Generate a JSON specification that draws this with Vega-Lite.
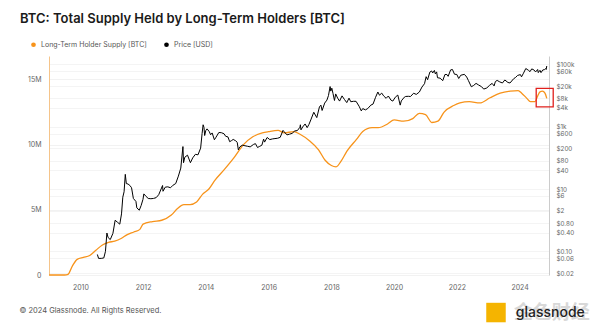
{
  "$schema": "https://vega.github.io/schema/vega-lite/v6.json",
  "width": 500,
  "height": 219,
  "autosize": {"type": "none"},
  "padding": {"left": 49, "top": 56, "right": 51, "bottom": 57},
  "background": "#ffffff",
  "config": {
    "view": {"stroke": null},
    "font": "Inter",
    "axis": {"labelFont": "Inter", "labelFontSize": 7, "labelColor": "#666666", "labelOverlap": false},
    "legend": {"labelFont": "Inter"}
  },
  "title": {
    "text": "BTC: Total Supply Held by Long-Term Holders [BTC]",
    "anchor": "start",
    "frame": "group",
    "dx": -29,
    "offset": 15,
    "fontSize": 13,
    "font": "Inter",
    "fontWeight": 600,
    "color": "#1a1a1a"
  },
  "datasets": {
    "lth": [
      {"date": "2009-01-03", "lth": 0},
      {"date": "2009-07-01", "lth": 0},
      {"date": "2009-08-10", "lth": 50000},
      {"date": "2009-10-01", "lth": 700000},
      {"date": "2009-11-25", "lth": 1200000},
      {"date": "2010-02-05", "lth": 1350000},
      {"date": "2010-04-20", "lth": 1500000},
      {"date": "2010-07-01", "lth": 1900000},
      {"date": "2010-09-15", "lth": 2300000},
      {"date": "2010-11-25", "lth": 2500000},
      {"date": "2011-02-05", "lth": 2600000},
      {"date": "2011-04-20", "lth": 2800000},
      {"date": "2011-07-01", "lth": 3100000},
      {"date": "2011-09-15", "lth": 3300000},
      {"date": "2011-11-25", "lth": 3500000},
      {"date": "2012-01-01", "lth": 3900000},
      {"date": "2012-04-20", "lth": 4100000},
      {"date": "2012-08-05", "lth": 4200000},
      {"date": "2012-11-25", "lth": 4600000},
      {"date": "2013-02-05", "lth": 5100000},
      {"date": "2013-04-20", "lth": 5400000},
      {"date": "2013-07-01", "lth": 5400000},
      {"date": "2013-09-15", "lth": 5600000},
      {"date": "2013-11-25", "lth": 6200000},
      {"date": "2014-02-05", "lth": 6600000},
      {"date": "2014-04-20", "lth": 7300000},
      {"date": "2014-08-05", "lth": 8100000},
      {"date": "2014-11-25", "lth": 9000000},
      {"date": "2015-03-15", "lth": 10000000},
      {"date": "2015-07-01", "lth": 10600000},
      {"date": "2015-10-20", "lth": 10900000},
      {"date": "2016-01-01", "lth": 11000000},
      {"date": "2016-04-20", "lth": 11100000},
      {"date": "2016-07-01", "lth": 10900000},
      {"date": "2016-10-20", "lth": 11000000},
      {"date": "2017-01-01", "lth": 10800000},
      {"date": "2017-04-20", "lth": 10300000},
      {"date": "2017-08-05", "lth": 9600000},
      {"date": "2017-10-20", "lth": 8800000},
      {"date": "2018-01-01", "lth": 8400000},
      {"date": "2018-02-25", "lth": 8300000},
      {"date": "2018-04-20", "lth": 8700000},
      {"date": "2018-07-01", "lth": 9500000},
      {"date": "2018-10-20", "lth": 10400000},
      {"date": "2019-01-01", "lth": 11000000},
      {"date": "2019-04-20", "lth": 11300000},
      {"date": "2019-07-01", "lth": 11300000},
      {"date": "2019-10-20", "lth": 11600000},
      {"date": "2020-01-01", "lth": 11900000},
      {"date": "2020-04-20", "lth": 11800000},
      {"date": "2020-08-05", "lth": 12000000},
      {"date": "2020-10-20", "lth": 12400000},
      {"date": "2021-01-01", "lth": 12300000},
      {"date": "2021-03-15", "lth": 11700000},
      {"date": "2021-05-25", "lth": 11800000},
      {"date": "2021-08-05", "lth": 12500000},
      {"date": "2021-11-25", "lth": 13000000},
      {"date": "2022-02-05", "lth": 13200000},
      {"date": "2022-05-25", "lth": 13300000},
      {"date": "2022-09-25", "lth": 13200000},
      {"date": "2023-01-22", "lth": 13600000},
      {"date": "2023-05-20", "lth": 13950000},
      {"date": "2023-09-12", "lth": 14100000},
      {"date": "2023-12-15", "lth": 14150000},
      {"date": "2024-01-25", "lth": 13950000},
      {"date": "2024-03-25", "lth": 13550000},
      {"date": "2024-05-05", "lth": 13300000},
      {"date": "2024-06-28", "lth": 13300000},
      {"date": "2024-07-27", "lth": 13700000},
      {"date": "2024-08-25", "lth": 14050000},
      {"date": "2024-09-23", "lth": 14100000},
      {"date": "2024-10-22", "lth": 13950000},
      {"date": "2024-11-12", "lth": 13550000}
    ],
    "price": [
      {"date": "2010-07-18", "price": 0.08},
      {"date": "2010-08-01", "price": 0.06},
      {"date": "2010-09-01", "price": 0.06},
      {"date": "2010-10-01", "price": 0.062},
      {"date": "2010-10-20", "price": 0.1},
      {"date": "2010-11-06", "price": 0.39},
      {"date": "2010-11-20", "price": 0.28},
      {"date": "2010-12-15", "price": 0.24},
      {"date": "2011-01-15", "price": 0.38},
      {"date": "2011-02-10", "price": 1.0},
      {"date": "2011-03-10", "price": 0.86},
      {"date": "2011-04-05", "price": 0.75},
      {"date": "2011-04-25", "price": 1.6},
      {"date": "2011-05-10", "price": 5.5},
      {"date": "2011-05-25", "price": 8.2},
      {"date": "2011-06-08", "price": 29.6},
      {"date": "2011-06-20", "price": 15},
      {"date": "2011-07-10", "price": 14.5},
      {"date": "2011-08-01", "price": 13},
      {"date": "2011-08-20", "price": 11},
      {"date": "2011-09-10", "price": 5},
      {"date": "2011-10-10", "price": 4},
      {"date": "2011-10-20", "price": 2.5},
      {"date": "2011-11-18", "price": 2.1},
      {"date": "2011-12-10", "price": 3},
      {"date": "2011-12-31", "price": 4.7},
      {"date": "2012-01-10", "price": 7},
      {"date": "2012-02-05", "price": 5.8},
      {"date": "2012-03-01", "price": 5},
      {"date": "2012-04-01", "price": 4.9},
      {"date": "2012-05-01", "price": 5},
      {"date": "2012-06-01", "price": 5.3},
      {"date": "2012-07-01", "price": 6.6},
      {"date": "2012-08-15", "price": 13},
      {"date": "2012-08-20", "price": 8.5},
      {"date": "2012-09-15", "price": 11.5},
      {"date": "2012-10-15", "price": 11.8},
      {"date": "2012-11-15", "price": 11},
      {"date": "2012-12-15", "price": 13.3},
      {"date": "2013-01-15", "price": 15},
      {"date": "2013-02-15", "price": 26},
      {"date": "2013-03-15", "price": 47},
      {"date": "2013-04-09", "price": 230},
      {"date": "2013-04-16", "price": 70},
      {"date": "2013-05-01", "price": 105},
      {"date": "2013-06-01", "price": 122},
      {"date": "2013-07-05", "price": 70},
      {"date": "2013-08-01", "price": 100},
      {"date": "2013-09-01", "price": 130},
      {"date": "2013-10-01", "price": 125},
      {"date": "2013-11-01", "price": 205},
      {"date": "2013-11-18", "price": 600},
      {"date": "2013-11-30", "price": 1150},
      {"date": "2013-12-10", "price": 950},
      {"date": "2013-12-18", "price": 520},
      {"date": "2013-12-31", "price": 750},
      {"date": "2014-01-15", "price": 850},
      {"date": "2014-02-10", "price": 690},
      {"date": "2014-02-25", "price": 550},
      {"date": "2014-03-15", "price": 630},
      {"date": "2014-04-10", "price": 380},
      {"date": "2014-04-25", "price": 440},
      {"date": "2014-06-01", "price": 650},
      {"date": "2014-07-01", "price": 640},
      {"date": "2014-08-01", "price": 590},
      {"date": "2014-08-20", "price": 490},
      {"date": "2014-09-15", "price": 470},
      {"date": "2014-10-05", "price": 330},
      {"date": "2014-10-25", "price": 355},
      {"date": "2014-11-15", "price": 390},
      {"date": "2014-12-15", "price": 350},
      {"date": "2015-01-01", "price": 315},
      {"date": "2015-01-14", "price": 180},
      {"date": "2015-02-01", "price": 225},
      {"date": "2015-03-01", "price": 255},
      {"date": "2015-04-01", "price": 245},
      {"date": "2015-05-01", "price": 235},
      {"date": "2015-06-01", "price": 225},
      {"date": "2015-07-10", "price": 270},
      {"date": "2015-08-01", "price": 285},
      {"date": "2015-08-25", "price": 215},
      {"date": "2015-09-15", "price": 230},
      {"date": "2015-10-15", "price": 255},
      {"date": "2015-11-04", "price": 400},
      {"date": "2015-11-15", "price": 320},
      {"date": "2015-12-15", "price": 450},
      {"date": "2016-01-15", "price": 385},
      {"date": "2016-02-15", "price": 405},
      {"date": "2016-03-15", "price": 415},
      {"date": "2016-04-15", "price": 425},
      {"date": "2016-05-15", "price": 455},
      {"date": "2016-06-17", "price": 760},
      {"date": "2016-07-01", "price": 680},
      {"date": "2016-08-02", "price": 545},
      {"date": "2016-09-01", "price": 575},
      {"date": "2016-10-01", "price": 610},
      {"date": "2016-11-01", "price": 730},
      {"date": "2016-12-01", "price": 750},
      {"date": "2016-12-31", "price": 960},
      {"date": "2017-01-05", "price": 1150},
      {"date": "2017-01-12", "price": 790},
      {"date": "2017-02-01", "price": 980},
      {"date": "2017-03-01", "price": 1220},
      {"date": "2017-03-25", "price": 930},
      {"date": "2017-04-15", "price": 1180},
      {"date": "2017-05-10", "price": 1750},
      {"date": "2017-06-10", "price": 2900},
      {"date": "2017-07-15", "price": 1950},
      {"date": "2017-08-15", "price": 4300},
      {"date": "2017-09-01", "price": 4900},
      {"date": "2017-09-15", "price": 3300},
      {"date": "2017-10-15", "price": 5700},
      {"date": "2017-11-10", "price": 7100},
      {"date": "2017-11-28", "price": 9900},
      {"date": "2017-12-17", "price": 19300},
      {"date": "2017-12-25", "price": 13800},
      {"date": "2018-01-06", "price": 17100},
      {"date": "2018-01-20", "price": 11500},
      {"date": "2018-02-06", "price": 6900},
      {"date": "2018-02-20", "price": 11200},
      {"date": "2018-03-15", "price": 8200},
      {"date": "2018-04-06", "price": 6600},
      {"date": "2018-05-05", "price": 9700},
      {"date": "2018-06-01", "price": 7500},
      {"date": "2018-06-29", "price": 5900},
      {"date": "2018-07-25", "price": 8200},
      {"date": "2018-08-15", "price": 6300},
      {"date": "2018-09-15", "price": 6500},
      {"date": "2018-10-15", "price": 6500},
      {"date": "2018-11-20", "price": 4500},
      {"date": "2018-12-15", "price": 3200},
      {"date": "2019-01-01", "price": 3800},
      {"date": "2019-02-01", "price": 3450},
      {"date": "2019-03-01", "price": 3820},
      {"date": "2019-04-05", "price": 4900},
      {"date": "2019-05-01", "price": 5300},
      {"date": "2019-05-30", "price": 8700},
      {"date": "2019-06-26", "price": 12900},
      {"date": "2019-07-15", "price": 10200},
      {"date": "2019-08-10", "price": 11900},
      {"date": "2019-09-01", "price": 9700},
      {"date": "2019-09-30", "price": 8100},
      {"date": "2019-10-26", "price": 9600},
      {"date": "2019-11-25", "price": 7100},
      {"date": "2019-12-17", "price": 6600},
      {"date": "2020-01-15", "price": 8800},
      {"date": "2020-02-13", "price": 10300},
      {"date": "2020-03-12", "price": 4900},
      {"date": "2020-03-25", "price": 6700},
      {"date": "2020-04-29", "price": 8800},
      {"date": "2020-05-15", "price": 9300},
      {"date": "2020-06-15", "price": 9400},
      {"date": "2020-07-10", "price": 9250},
      {"date": "2020-08-15", "price": 11800},
      {"date": "2020-09-15", "price": 10800},
      {"date": "2020-10-21", "price": 12900},
      {"date": "2020-11-20", "price": 18600},
      {"date": "2020-12-20", "price": 23800},
      {"date": "2021-01-08", "price": 40000},
      {"date": "2021-01-25", "price": 32000},
      {"date": "2021-02-20", "price": 56000},
      {"date": "2021-03-13", "price": 61000},
      {"date": "2021-03-25", "price": 52500},
      {"date": "2021-04-14", "price": 63500},
      {"date": "2021-04-25", "price": 49000},
      {"date": "2021-05-10", "price": 57000},
      {"date": "2021-05-20", "price": 37000},
      {"date": "2021-06-20", "price": 35800},
      {"date": "2021-07-20", "price": 29800},
      {"date": "2021-08-15", "price": 47000},
      {"date": "2021-09-07", "price": 46800},
      {"date": "2021-09-21", "price": 41000},
      {"date": "2021-10-20", "price": 66000},
      {"date": "2021-11-10", "price": 68000},
      {"date": "2021-12-04", "price": 48000},
      {"date": "2021-12-31", "price": 47000},
      {"date": "2022-01-22", "price": 35000},
      {"date": "2022-02-15", "price": 44500},
      {"date": "2022-03-29", "price": 47500},
      {"date": "2022-04-25", "price": 39000},
      {"date": "2022-05-15", "price": 30000},
      {"date": "2022-06-18", "price": 19000},
      {"date": "2022-07-15", "price": 21000},
      {"date": "2022-08-12", "price": 24400},
      {"date": "2022-09-10", "price": 21700},
      {"date": "2022-10-15", "price": 19100},
      {"date": "2022-11-09", "price": 16000},
      {"date": "2022-12-15", "price": 17400},
      {"date": "2023-01-14", "price": 20900},
      {"date": "2023-02-15", "price": 24400},
      {"date": "2023-03-10", "price": 20200},
      {"date": "2023-03-25", "price": 28000},
      {"date": "2023-04-14", "price": 30400},
      {"date": "2023-05-15", "price": 27200},
      {"date": "2023-06-15", "price": 25100},
      {"date": "2023-07-13", "price": 31400},
      {"date": "2023-08-18", "price": 26100},
      {"date": "2023-09-11", "price": 25100},
      {"date": "2023-10-24", "price": 34500},
      {"date": "2023-11-15", "price": 37800},
      {"date": "2023-12-08", "price": 43800},
      {"date": "2024-01-10", "price": 46600},
      {"date": "2024-01-23", "price": 39500},
      {"date": "2024-02-15", "price": 51800},
      {"date": "2024-03-13", "price": 73000},
      {"date": "2024-04-15", "price": 63400},
      {"date": "2024-05-01", "price": 58000},
      {"date": "2024-05-21", "price": 71000},
      {"date": "2024-06-15", "price": 66000},
      {"date": "2024-07-05", "price": 56700},
      {"date": "2024-07-29", "price": 68000},
      {"date": "2024-08-05", "price": 54000},
      {"date": "2024-08-25", "price": 64000},
      {"date": "2024-09-06", "price": 53900},
      {"date": "2024-09-27", "price": 65800},
      {"date": "2024-10-15", "price": 67000},
      {"date": "2024-10-29", "price": 72500},
      {"date": "2024-11-05", "price": 68000},
      {"date": "2024-11-12", "price": 88000}
    ],
    "box": [
      {"start": "2024-07-12", "end": "2025-01-26", "low": 12900000, "high": 14320000}
    ],
    "notes": [
      {"date": "2008-01-23", "v": -2730000, "label": "© 2024 Glassnode. All Rights Reserved."}
    ],
    "logo": [
      {"date": "2023-04-01", "v": -2880000}
    ],
    "brand": [
      {"date": "2023-10-25", "v": -2880000, "label": "glassnode", "cn": "金色财经"}
    ]
  },
  "layer": [
    {
      "layer": [
        {
          "data": {"name": "lth"},
          "mark": {"type": "line", "strokeWidth": 1.3, "interpolate": "monotone"},
          "encoding": {
            "x": {
              "field": "date", "type": "temporal",
              "scale": {"domain": [{"year": 2009, "month": 1, "date": 1}, {"year": 2024, "month": 12, "date": 8}]},
              "axis": {
                "title": null, "format": "%Y", "ticks": false, "domain": false, "grid": false,
                "labelPadding": 8, "labelFontSize": 7, "labelColor": "#666666",
                "values": [
                  {"year": 2010, "month": 1, "date": 1}, {"year": 2012, "month": 1, "date": 1},
                  {"year": 2014, "month": 1, "date": 1}, {"year": 2016, "month": 1, "date": 1},
                  {"year": 2018, "month": 1, "date": 1}, {"year": 2020, "month": 1, "date": 1},
                  {"year": 2022, "month": 1, "date": 1}, {"year": 2024, "month": 1, "date": 1}
                ]
              }
            },
            "y": {
              "field": "lth", "type": "quantitative",
              "scale": {"domain": [0, 16800000], "nice": false, "zero": false},
              "axis": {
                "orient": "left", "title": null, "values": [0, 5000000, 10000000, 15000000],
                "labelExpr": "datum.value == 0 ? '0' : (datum.value / 1000000) + 'M'",
                "ticks": false, "domainColor": "#f5c48a", "domainWidth": 1,
                "labelPadding": 8, "grid": true, "gridColor": "#efefef", "gridWidth": 0.8
              }
            },
            "color": {
              "datum": "Long-Term Holder Supply [BTC]",
              "scale": {"domain": ["Long-Term Holder Supply [BTC]", "Price [USD]"], "range": ["#f7931a", "#000000"]},
              "legend": {
                "orient": "none", "legendX": -19, "legendY": -15, "direction": "horizontal",
                "title": null, "symbolType": "circle", "symbolSize": 22, "labelFontSize": 7,
                "labelColor": "#555555", "columnPadding": 16,
                "encode": {"symbols": {"update": {"fill": {"scale": "color", "field": "value"}, "strokeWidth": {"value": 0}}}}
              }
            }
          }
        },
        {
          "data": {"name": "box"},
          "mark": {"type": "rect", "fill": null, "filled": false, "stroke": "#e0201c", "strokeWidth": 1.3, "clip": false},
          "encoding": {
            "x": {"field": "start", "type": "temporal", "scale": {"domain": [{"year": 2009, "month": 1, "date": 1}, {"year": 2024, "month": 12, "date": 8}]}},
            "x2": {"field": "end"},
            "y": {"field": "low", "type": "quantitative", "scale": {"domain": [0, 16800000], "nice": false, "zero": false}},
            "y2": {"field": "high"}
          }
        },
        {
          "data": {"name": "notes"},
          "mark": {"type": "text", "align": "left", "baseline": "middle", "fontSize": 7.5, "color": "#555555", "font": "Inter"},
          "encoding": {
            "x": {"field": "date", "type": "temporal", "scale": {"domain": [{"year": 2009, "month": 1, "date": 1}, {"year": 2024, "month": 12, "date": 8}]}},
            "y": {"field": "v", "type": "quantitative", "scale": {"domain": [0, 16800000], "nice": false, "zero": false}},
            "text": {"field": "label"}
          }
        },
        {
          "data": {"name": "logo"},
          "mark": {"type": "point", "shape": "square", "filled": true, "size": 380, "color": "#f5b400", "opacity": 1},
          "encoding": {
            "x": {"field": "date", "type": "temporal", "scale": {"domain": [{"year": 2009, "month": 1, "date": 1}, {"year": 2024, "month": 12, "date": 8}]}},
            "y": {"field": "v", "type": "quantitative", "scale": {"domain": [0, 16800000], "nice": false, "zero": false}}
          }
        },
        {
          "data": {"name": "brand"},
          "mark": {"type": "text", "align": "left", "baseline": "middle", "fontSize": 19, "color": "#d8d8d8", "font": "Noto Sans CJK SC", "fontWeight": "bold"},
          "encoding": {
            "x": {"field": "date", "type": "temporal", "scale": {"domain": [{"year": 2009, "month": 1, "date": 1}, {"year": 2024, "month": 12, "date": 8}]}},
            "y": {"field": "v", "type": "quantitative", "scale": {"domain": [0, 16800000], "nice": false, "zero": false}},
            "text": {"field": "cn"}
          }
        },
        {
          "data": {"name": "brand"},
          "mark": {"type": "text", "align": "left", "baseline": "middle", "fontSize": 14, "color": "#222222", "font": "Inter", "fontWeight": 500, "dx": 2},
          "encoding": {
            "x": {"field": "date", "type": "temporal", "scale": {"domain": [{"year": 2009, "month": 1, "date": 1}, {"year": 2024, "month": 12, "date": 8}]}},
            "y": {"field": "v", "type": "quantitative", "scale": {"domain": [0, 16800000], "nice": false, "zero": false}},
            "text": {"field": "label"}
          }
        }
      ]
    },
    {
      "data": {"name": "price"},
      "mark": {"type": "line", "strokeWidth": 1, "color": "#000000"},
      "encoding": {
        "x": {"field": "date", "type": "temporal", "scale": {"domain": [{"year": 2009, "month": 1, "date": 1}, {"year": 2024, "month": 12, "date": 8}]}},
        "y": {
          "field": "price", "type": "quantitative",
          "scale": {"type": "log", "domain": [0.0176, 184000], "nice": false},
          "axis": {
            "orient": "right", "title": null, "ticks": false, "domainColor": "#cccccc",
            "labelPadding": 7, "labelFontSize": 6.3, "grid": true, "gridColor": "#f1f1f1", "gridWidth": 0.8,
            "values": [0.02, 0.06, 0.1, 0.4, 0.8, 2, 6, 10, 40, 80, 200, 600, 1000, 4000, 8000, 20000, 60000, 100000],
            "labelExpr": "datum.value < 1 ? '$' + format(datum.value, '.2f') : (datum.value >= 1000 ? '$' + (datum.value / 1000) + 'k' : '$' + datum.value)"
          }
        },
        "color": {"datum": "Price [USD]"}
      }
    }
  ],
  "resolve": {"scale": {"y": "independent"}}
}
